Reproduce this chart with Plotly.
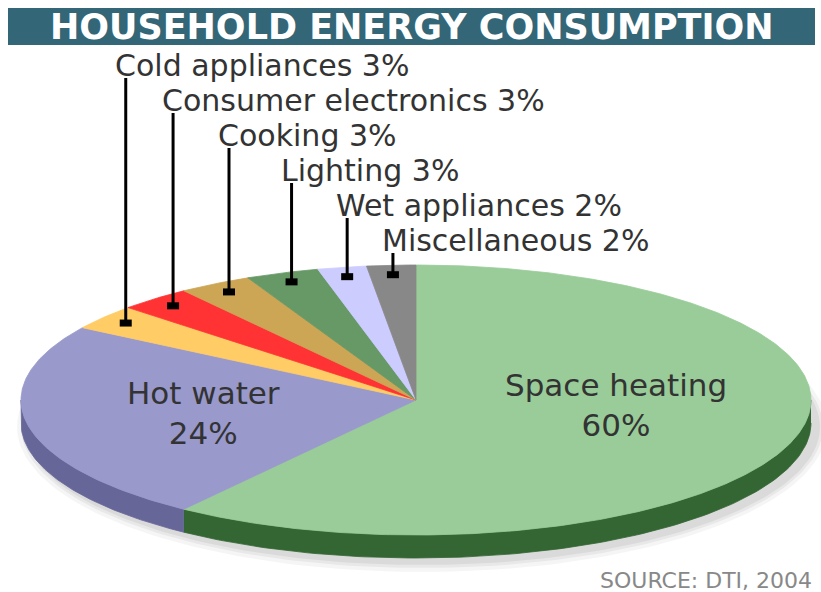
import numpy as np
import plotly.graph_objects as go

# ---------------- data ----------------
CATEGORIES = ["Space heating", "Hot water", "Cold appliances", "Consumer electronics",
              "Cooking", "Lighting", "Wet appliances", "Miscellaneous"]
VALUES = [60, 24, 3, 3, 3, 3, 2, 2]  # percent, clockwise from 12 o'clock
TITLE = "HOUSEHOLD ENERGY CONSUMPTION"
SOURCE = "SOURCE: DTI, 2004"

# ---------------- styles / layout ----------------
TOP_COLORS = ["#99CC99", "#9999CC", "#FFCC66", "#FF3333",
              "#CCA555", "#669966", "#CCCCFF", "#888888"]
SIDE_COLORS = ["#336633", "#666699", "#CC9933", "#AA2222",
               "#997733", "#336633", "#9999CC", "#555555"]
W, H = 821, 592
CX, CY, RX, RY, DEPTH = 416, 400, 395, 135, 23
INSIDE = {"Space heating": (616, 405), "Hot water": (203, 413)}
LEADER_R = 0.93
LABEL_TOP_Y, LABEL_STEP = 65, 35
FONT = "DejaVu Sans"
TEXT_COLOR = "#333333"


def pt(theta_deg, r=1.0):
    t = np.radians(theta_deg)
    return CX + RX * r * np.sin(t), CY - RY * r * np.cos(t)


total = float(sum(VALUES))
bounds = np.concatenate([[0.0], np.cumsum(VALUES) / total * 360.0])

fig = go.Figure()

# soft shadow below the pie
for grow, alpha in [(10, 0.04), (6, 0.05), (3, 0.06)]:
    th = np.linspace(0, 360, 241)
    t = np.radians(th)
    fig.add_trace(go.Scatter(
        x=CX + 6 + (RX + grow) * np.sin(t),
        y=CY + DEPTH + 4 - (RY + grow) * np.cos(t),
        mode="lines", fill="toself", line=dict(width=0),
        fillcolor=f"rgba(0,0,0,{alpha})", hoverinfo="skip", showlegend=False))

# side walls (front half only: 90..270 degrees)
for i, name in enumerate(CATEGORIES):
    lo, hi = max(bounds[i], 90.0), min(bounds[i + 1], 270.0)
    if lo >= hi:
        continue
    th = np.linspace(lo, hi, 120)
    xs, ys = pt(th)
    px = np.concatenate([xs, xs[::-1]])
    py = np.concatenate([ys, ys[::-1] + DEPTH])
    fig.add_trace(go.Scatter(
        x=px, y=py, mode="lines", fill="toself",
        line=dict(width=0.8, color=SIDE_COLORS[i]), fillcolor=SIDE_COLORS[i],
        hoverinfo="skip", showlegend=False))

# top faces
for i, name in enumerate(CATEGORIES):
    n = max(int((bounds[i + 1] - bounds[i]) * 2), 6)
    th = np.linspace(bounds[i], bounds[i + 1], n)
    xs, ys = pt(th)
    px = np.concatenate([[CX], xs, [CX]])
    py = np.concatenate([[CY], ys, [CY]])
    fig.add_trace(go.Scatter(
        x=px, y=py, mode="lines", fill="toself",
        line=dict(width=0.8, color=TOP_COLORS[i]), fillcolor=TOP_COLORS[i],
        name=name, hovertemplate=f"{name}: {VALUES[i]}%<extra></extra>",
        showlegend=False))

shapes = []
annotations = []

# title bar
shapes.append(dict(type="rect", xref="x", yref="y", x0=8, x1=815, y0=8, y1=45,
                   fillcolor="#336677", line=dict(width=0), layer="below"))
annotations.append(dict(x=411.5, y=27, xref="x", yref="y", text=f"<b>{TITLE}</b>",
                        showarrow=False, xanchor="center", yanchor="middle",
                        font=dict(family=FONT, size=35, color="white")))

# inside labels for big slices
for i, name in enumerate(CATEGORIES):
    if name in INSIDE:
        x, y = INSIDE[name]
        annotations.append(dict(x=x, y=y, xref="x", yref="y",
                                text=f"{name}<br>{VALUES[i]}%", showarrow=False,
                                xanchor="center", yanchor="middle", align="center",
                                font=dict(family=FONT, size=31, color=TEXT_COLOR)))

# leader labels for small slices
row = 0
for i, name in enumerate(CATEGORIES):
    if name in INSIDE:
        continue
    mid = (bounds[i] + bounds[i + 1]) / 2.0
    mx, my = pt(mid, LEADER_R)
    ly = LABEL_TOP_Y + row * LABEL_STEP
    row += 1
    shapes.append(dict(type="line", xref="x", yref="y", x0=mx, x1=mx, y0=ly + 13, y1=my,
                       line=dict(color="black", width=3)))
    shapes.append(dict(type="rect", xref="x", yref="y", x0=mx - 6, x1=mx + 6,
                       y0=my - 3.5, y1=my + 3.5, fillcolor="black", line=dict(width=0)))
    annotations.append(dict(x=mx - 13, y=ly, xref="x", yref="y",
                            text=f"{name} {VALUES[i]}%", showarrow=False,
                            xanchor="left", yanchor="middle",
                            font=dict(family=FONT, size=30, color=TEXT_COLOR)))

# source
annotations.append(dict(x=814, y=580, xref="x", yref="y", text=SOURCE, showarrow=False,
                        xanchor="right", yanchor="middle",
                        font=dict(family=FONT, size=22, color="#888888")))

fig.update_layout(
    width=W, height=H, margin=dict(l=0, r=0, t=0, b=0),
    paper_bgcolor="white", plot_bgcolor="white",
    xaxis=dict(range=[0, W], visible=False, fixedrange=True),
    yaxis=dict(range=[H, 0], visible=False, fixedrange=True),
    shapes=shapes, annotations=annotations, showlegend=False,
)

fig.write_html("out.html", config={"displayModeBar": False})
